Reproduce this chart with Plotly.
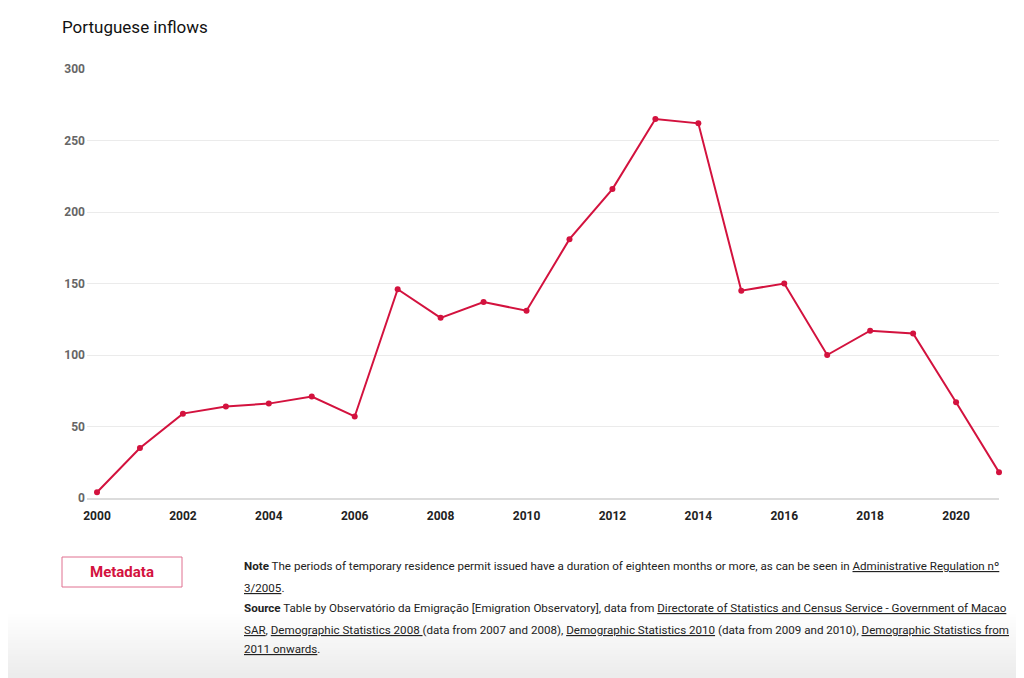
import plotly.graph_objects as go

years = list(range(2000, 2022))
inflows = [4, 35, 59, 64, 66, 71, 57, 146, 126, 137, 131, 181, 216, 265, 262, 145, 150, 100, 117, 115, 67, 18]
x_ticks = list(range(2000, 2021, 2))
y_ticks = [0, 50, 100, 150, 200, 250, 300]

title_text = "Portuguese inflows"
note_lines = [
    "<b>Note</b> The periods of temporary residence permit issued have a duration of eighteen months or more, as can be seen in <u>Administrative Regulation nº</u>",
    "<u>3/2005</u>.",
    "<b>Source</b> Table by Observatório da Emigração [Emigration Observatory], data from <u>Directorate of Statistics and Census Service - Government of Macao</u>",
    "<u>SAR</u>, <u>Demographic Statistics 2008 </u>(data from 2007 and 2008), <u>Demographic Statistics 2010</u> (data from 2009 and 2010), <u>Demographic Statistics from</u>",
    "<u>2011 onwards</u>.",
]

OFF = 8  # page body margin
W, H = 1024 - OFF, 678 - OFF
L, R, T, B = 87 - OFF, 999 - OFF, 69 - OFF, 498 - OFF
red = "#d3123e"


def px(x):
    return (x - OFF - L) / (R - L)


def py(y):
    return (B - (y - OFF)) / (B - T)


fig = go.Figure()
fig.add_trace(go.Scatter(
    x=years, y=inflows, mode="lines+markers",
    line=dict(color=red, width=2),
    marker=dict(color=red, size=6),
    cliponaxis=False, hoverinfo="x+y",
))

shapes = []
# bottom gradient background
n = 30
for i in range(n):
    y0 = 612 + i * (66 / n)
    y1 = y0 + 66 / n + 0.5
    g = int(255 - (255 - 236) * (i / (n - 1)))
    shapes.append(dict(type="rect", xref="paper", yref="paper",
                       x0=px(OFF), x1=px(1024), y0=py(y1), y1=py(y0),
                       fillcolor=f"rgb({g},{g},{g})", line=dict(width=0), layer="below"))
# Metadata button
shapes.append(dict(type="rect", xref="paper", yref="paper",
                   x0=px(62), x1=px(182), y0=py(587), y1=py(557),
                   fillcolor="white", line=dict(color="#e07090", width=1)))

annotations = [
    dict(text="<b>Metadata</b>", xref="paper", yref="paper", x=px(122), y=py(572),
         xanchor="center", yanchor="middle", showarrow=False,
         font=dict(family="Roboto", size=15, color=red)),
]
line_y = [566, 588, 608, 630, 649]
for t, yy in zip(note_lines, line_y):
    annotations.append(dict(text=t, xref="paper", yref="paper", x=px(242), y=py(yy),
                            xanchor="left", yanchor="middle", showarrow=False, align="left",
                            font=dict(family="Roboto", size=11.6, color="#222")))

fig.update_layout(
    width=W, height=H,
    margin=dict(l=L, r=W - R, t=T, b=H - B),
    paper_bgcolor="white", plot_bgcolor="white",
    showlegend=False,
    title=dict(text=title_text, xref="container", yref="container",
               x=(62 - OFF) / W, xanchor="left", y=1 - (27 - OFF) / H, yanchor="middle",
               font=dict(family="Roboto", size=17, color="#111")),
    xaxis=dict(range=[2000 - 10 / 42.95, 2021], tickvals=x_ticks,
               ticktext=[str(v) for v in x_ticks], showgrid=False, zeroline=False,
               showline=True, linecolor="#dcdcdc", linewidth=2,
               ticks="", ticklabelstandoff=6,
               tickfont=dict(family="Roboto", size=12, color="#222", weight="bold")),
    yaxis=dict(range=[0, 300], tickvals=y_ticks, showgrid=True, gridcolor="#ebebeb",
               gridwidth=1, zeroline=False, ticks="", ticklabelstandoff=1,
               tickfont=dict(family="Roboto", size=12, color="#666", weight="bold")),
    shapes=shapes, annotations=annotations,
)

fig.write_html("out.html")
